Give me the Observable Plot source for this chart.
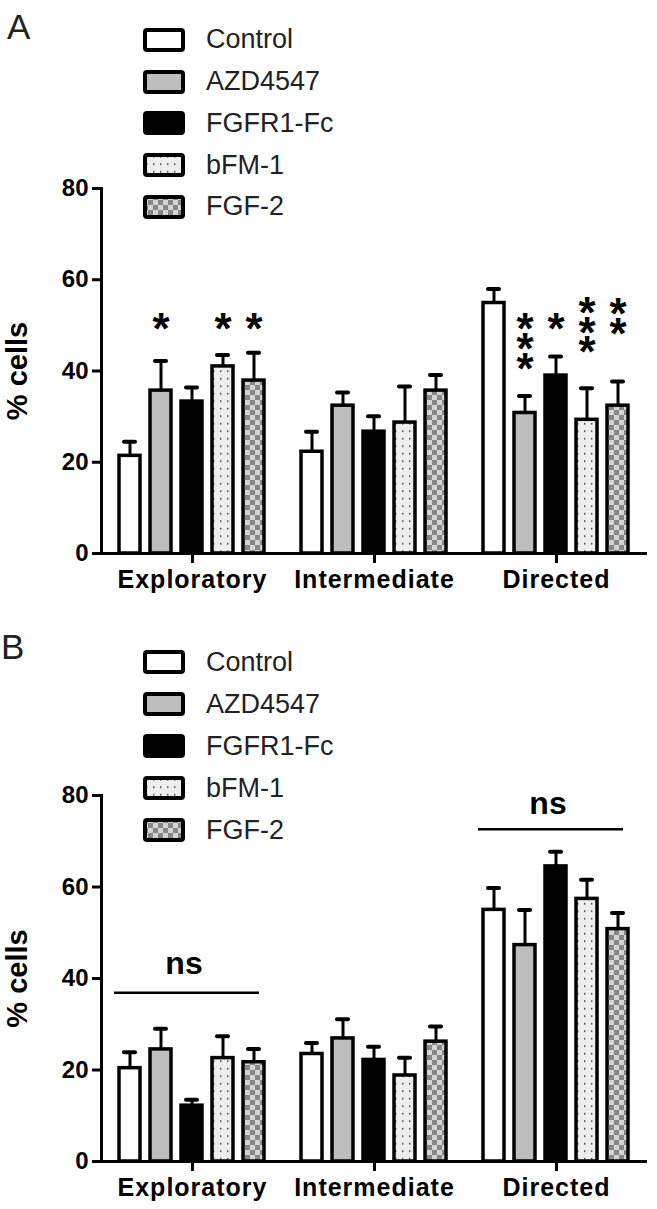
<!DOCTYPE html>
<html><head><meta charset="utf-8">
<script src="https://cdn.jsdelivr.net/npm/d3@7"></script>
<script src="https://cdn.jsdelivr.net/npm/@observablehq/plot@0.6"></script>
<style>
body{margin:0;background:#fff;font-family:"Liberation Sans",Arial,sans-serif;}
#page{position:relative;width:657px;height:1209px;overflow:hidden;background:#fff;}
.panel{position:absolute;left:0;width:657px;}
.plabel{position:absolute;font-size:35px;line-height:35px;color:#222;}
.legend{position:absolute;left:143px;}
.lrow{display:flex;align-items:center;}
.lrow svg{display:block;}
.lrow span{font-size:27px;color:#222;margin-left:21px;white-space:nowrap;}
g[aria-label="fx-axis tick label"] text{letter-spacing:1px;}
</style></head>
<body>
<svg width="0" height="0" style="position:absolute">
<defs>
<pattern id="dots" patternUnits="userSpaceOnUse" width="7" height="7.5">
<rect width="7" height="7.5" fill="#eeeeee"/><rect x="3" y="3" width="1.4" height="1.4" fill="#222"/>
</pattern>
<pattern id="check" patternUnits="userSpaceOnUse" width="10" height="10">
<rect width="10" height="10" fill="#d4d4d4"/><rect width="5" height="5" fill="#878787"/><rect x="5" y="5" width="5" height="5" fill="#878787"/>
</pattern>
</defs></svg>
<div id="page">
  <div class="panel" id="pA" style="top:0;height:600px"></div>
  <div class="panel" id="pB" style="top:600px;height:609px"></div>
</div>
<script>
// ---------- data ----------
const categories = ["Exploratory", "Intermediate", "Directed"];
const series = ["Control", "AZD4547", "FGFR1-Fc", "bFM-1", "FGF-2"];
const fills = ["#ffffff", "#bdbdbd", "#000000", "url(#dots)", "url(#check)"];
const yTicks = [0, 20, 40, 60, 80];
const yLabel = "% cells";

// Panel A: means and SEM per category (order = series)
const aExploratory = [21.4, 35.7, 33.3, 41.0, 37.9];
const aIntermediate = [22.3, 32.4, 26.7, 28.7, 35.7];
const aDirected = [54.9, 30.8, 39.0, 29.3, 32.4];
const aErrExploratory = [3.1, 6.5, 3.1, 2.5, 6.1];
const aErrIntermediate = [4.4, 2.9, 3.4, 7.9, 3.4];
const aErrDirected = [3.1, 3.7, 4.2, 6.9, 5.3];

// Panel B
const bExploratory = [20.4, 24.5, 12.2, 22.6, 21.7];
const bIntermediate = [23.5, 26.9, 22.2, 18.8, 26.2];
const bDirected = [55.0, 47.3, 64.5, 57.4, 50.8];
const bErrExploratory = [3.5, 4.5, 1.3, 4.8, 2.9];
const bErrIntermediate = [2.4, 4.2, 2.9, 3.9, 3.3];
const bErrDirected = [4.8, 7.7, 3.2, 4.2, 3.5];

// Significance stars in panel A (category, series, number of stars, level of top star)
const starCat = ["Exploratory", "Exploratory", "Exploratory", "Directed", "Directed", "Directed", "Directed"];
const starSeries = ["AZD4547", "bFM-1", "FGF-2", "AZD4547", "FGFR1-Fc", "bFM-1", "FGF-2"];
const starCount = [1, 1, 1, 3, 1, 3, 2];
const starLevel = [50.7, 50.7, 50.7, 50.7, 50.7, 54.4, 54.0];

// "ns" annotations in panel B
const nsCat = ["Exploratory", "Directed"];
const nsLine = [36.9, 72.6];
const nsText = [43.3, 78.3];

// ---------- build tables ----------
function table(means, errs) {
  const out = [];
  categories.forEach((c, ci) => series.forEach((s, si) =>
    out.push({cat: c, series: s, value: means[ci][si], err: errs[ci][si]})));
  return out;
}
const dataA = table([aExploratory, aIntermediate, aDirected], [aErrExploratory, aErrIntermediate, aErrDirected]);
const dataB = table([bExploratory, bIntermediate, bDirected], [bErrExploratory, bErrIntermediate, bErrDirected]);
const stars = starCat.map((c, i) => ({cat: c, series: starSeries[i], level: starLevel[i], text: Array(starCount[i]).fill("*").join("\n")}));
const nsData = nsCat.map((c, i) => ({cat: c, line: nsLine[i], text: nsText[i]}));

const FONT = "Liberation Sans, Arial, sans-serif";

function panel(data, annot, height, marginTop, marginBottom) {
  return Plot.plot({
    width: 657, height, marginTop, marginBottom, marginLeft: 101, marginRight: 10,
    style: {fontFamily: FONT, color: "#000", background: "transparent", overflow: "visible"},
    fx: {domain: categories, padding: 0, axis: null},
    x: {domain: series, paddingInner: 0.3125, paddingOuter: 0.53, axis: null},
    y: {domain: [0, 80], axis: null},
    color: {domain: series, range: fills},
    marks: [
      Plot.ruleX(data, {fx: "cat", x: "series", y1: "value", y2: d => d.value + d.err, stroke: "#000", strokeWidth: 3}),
      Plot.tickY(data, {fx: "cat", x: "series", y: d => d.value + d.err, stroke: "#000", strokeWidth: 4, strokeLinecap: "round", insetLeft: 5, insetRight: 5}),
      Plot.barY(data, {fx: "cat", x: "series", y: "value", fill: "series", stroke: "#000", strokeWidth: 3.5}),
      Plot.ruleY([0], {stroke: "#000", strokeWidth: 3}),
      Plot.frame({anchor: "left", facetAnchor: "left", stroke: "#000", strokeWidth: 3}),
      Plot.axisY({ticks: yTicks, tickSize: 9, tickPadding: 4, stroke: "#000", strokeWidth: 3, fontSize: 24, fontWeight: "bold", label: null}),
      Plot.axisFx({anchor: "bottom", tickSize: 10, tickPadding: 7, stroke: "#000", strokeWidth: 3, fontSize: 25, fontWeight: "bold", label: null}),
      Plot.text([categories[0]], {fx: d => d, frameAnchor: "left", text: () => yLabel, rotate: -90, dx: -84, textAnchor: "middle", lineAnchor: "middle", fontSize: 29, fontWeight: "bold"}),
      ...annot
    ]
  });
}

const annotA = [
  Plot.text(stars, {fx: "cat", x: "series", y: "level", text: "text", fontSize: 44, fontWeight: "bold", lineAnchor: "top", lineHeight: 20 / 44, dy: 8})
];
const annotB = [
  Plot.ruleY(nsData, {fx: "cat", y: "line", x1: () => "Control", x2: () => "FGF-2", stroke: "#000", strokeWidth: 2.5, dx: -5}),
  Plot.text(nsData, {fx: "cat", x: () => "FGFR1-Fc", y: "text", text: () => "ns", fontSize: 32, fontWeight: "bold", lineAnchor: "middle", dx: -8})
];

function legend(top, rowH) {
  const div = document.createElement("div");
  div.className = "legend";
  div.style.top = top + "px";
  series.forEach((s, i) => {
    const row = document.createElement("div");
    row.className = "lrow";
    row.style.height = rowH + "px";
    row.innerHTML = `<svg width="42" height="24"><rect x="2" y="2" width="38" height="20" rx="2" fill="${fills[i]}" stroke="#000" stroke-width="4"/></svg><span>${s}</span>`;
    div.appendChild(row);
  });
  return div;
}
function plabel(t, left, top) {
  const d = document.createElement("div");
  d.className = "plabel"; d.textContent = t;
  d.style.left = left + "px"; d.style.top = top + "px";
  return d;
}

const pA = document.getElementById("pA");
pA.appendChild(panel(dataA, annotA, 600, 188, 47));
pA.appendChild(legend(19, 41.75));
pA.appendChild(plabel("A", 7, 9));

const pB = document.getElementById("pB");
pB.appendChild(panel(dataB, annotB, 609, 195, 48));
pB.appendChild(legend(41, 42));
pB.appendChild(plabel("B", 1, 29));
for (const p of [pA, pB]) p.querySelector("svg").style.position = "absolute";
</script>
</body></html>
